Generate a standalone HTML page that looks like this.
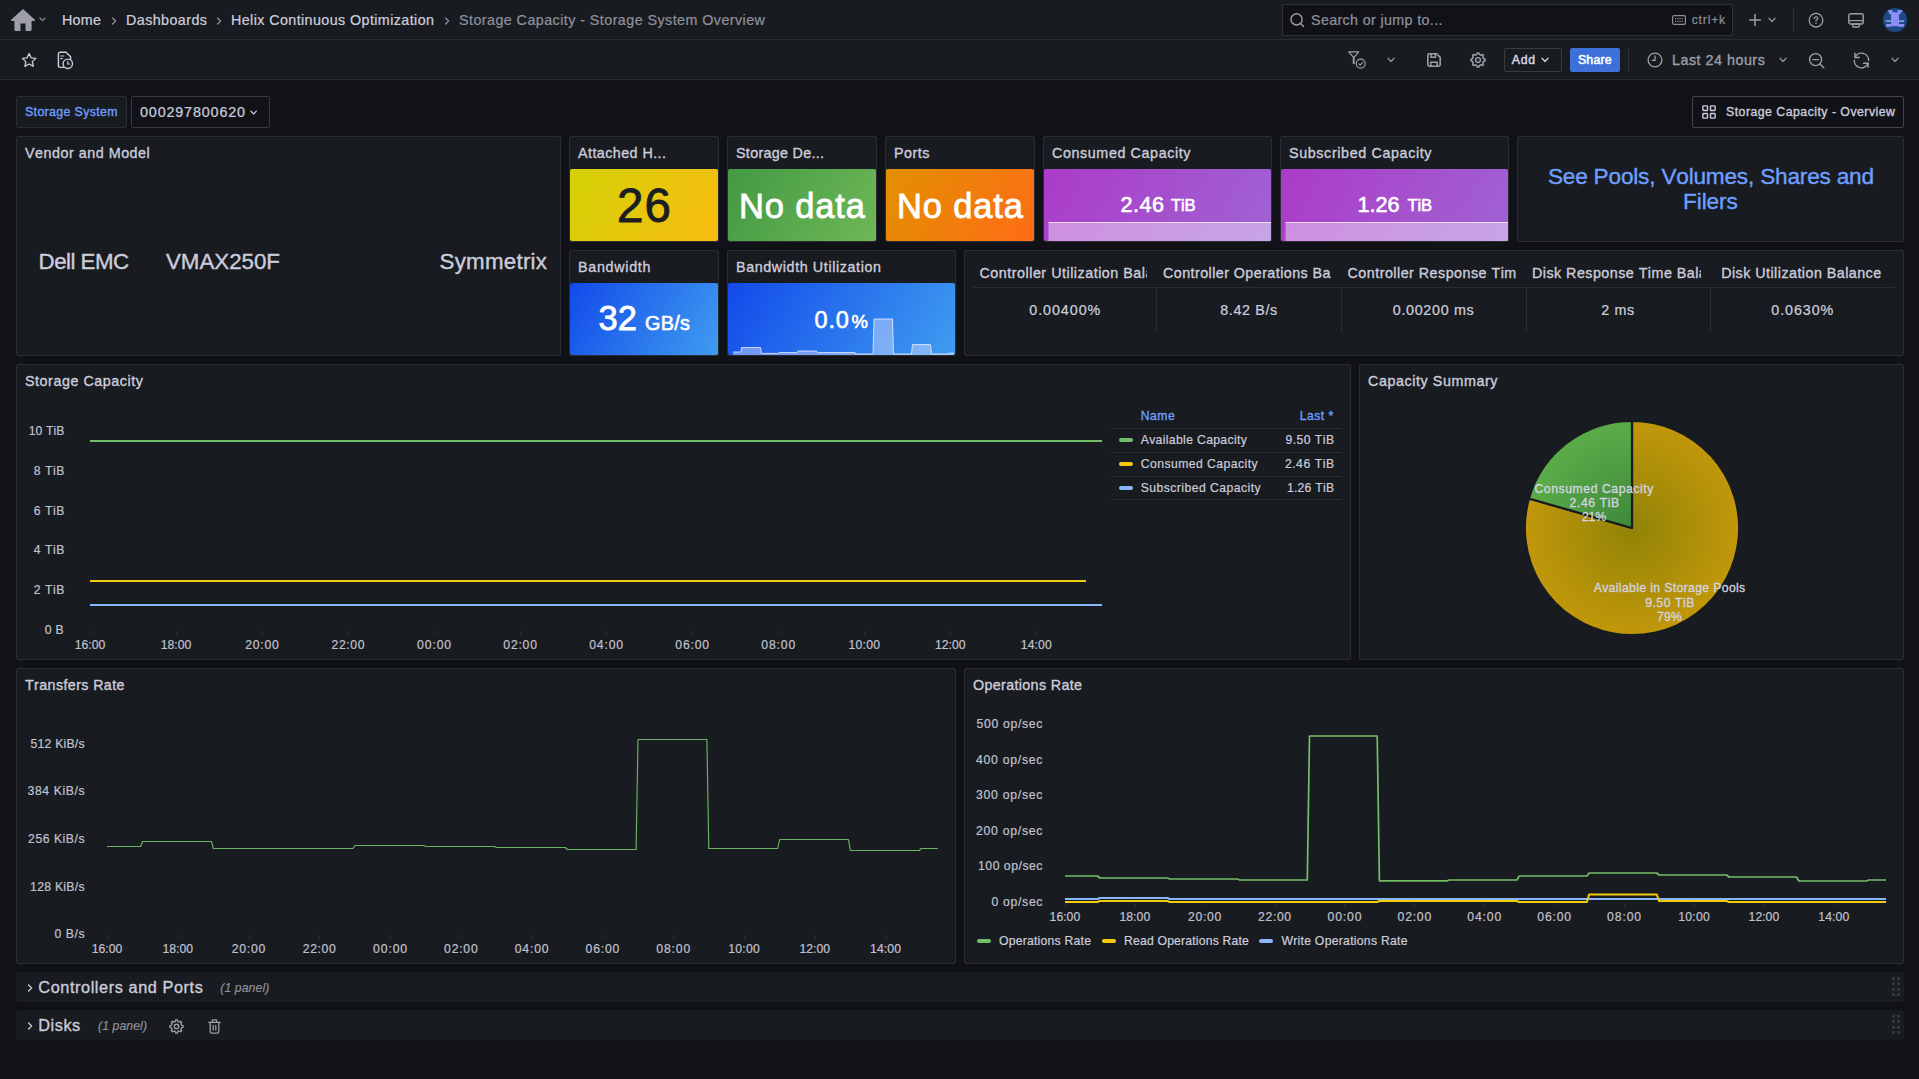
<!DOCTYPE html>
<html><head><meta charset="utf-8"><title>Storage Capacity - Storage System Overview</title>
<style>
html,body{margin:0;padding:0;background:#111217;overflow:hidden;}
body{width:1919px;height:1079px;position:relative;font-family:"Liberation Sans",sans-serif;}
.t{position:absolute;white-space:nowrap;line-height:1;font-kerning:none;}
.b{position:absolute;}
svg{position:absolute;overflow:visible;}
</style></head><body>
<div class="b" style="left:0px;top:0px;width:1919px;height:40px;background:#181b1f;border-bottom:1px solid #2b2d33;box-sizing:border-box;"></div>
<div class="b" style="left:0px;top:40px;width:1919px;height:40px;background:#181b1f;border-bottom:1px solid #2b2d33;box-sizing:border-box;"></div>
<svg style="left:11px;top:8px" width="24" height="24" viewBox="0 0 24 24"><path fill="#9d9ea9" d="M12 0.9 L0.1 11.7 Q-0.4 12.9 0.8 13.1 H3.4 V21.8 Q3.4 22.9 4.5 22.9 H9.5 V15.4 H14.5 V22.9 H19.5 Q20.6 22.9 20.6 21.8 V13.1 H23.2 Q24.4 12.9 23.9 11.7 Z"/></svg>
<svg style="left:38.6px;top:17.4px" width="7" height="5.2" viewBox="0 0 8 6"><path d="M1 1.2 L4 4.2 L7 1.2" fill="none" stroke="#8e8f9b" stroke-width="1.4" stroke-linecap="round" stroke-linejoin="round"/></svg>
<span class="t" style="left:62.00px;top:13.10px;font-size:14.3px;color:#ccccdc;letter-spacing:0.285px;-webkit-text-stroke:0.24px #ccccdc;">Home</span>
<svg style="left:111px;top:16.5px" width="6" height="8" viewBox="0 0 6 8"><path d="M1.6 1 L4.6 4 L1.6 7" fill="none" stroke="#8e8f9b" stroke-width="1.3" stroke-linecap="round" stroke-linejoin="round"/></svg>
<span class="t" style="left:126.00px;top:13.10px;font-size:14.3px;color:#ccccdc;letter-spacing:0.432px;-webkit-text-stroke:0.24px #ccccdc;">Dashboards</span>
<svg style="left:216px;top:16.5px" width="6" height="8" viewBox="0 0 6 8"><path d="M1.6 1 L4.6 4 L1.6 7" fill="none" stroke="#8e8f9b" stroke-width="1.3" stroke-linecap="round" stroke-linejoin="round"/></svg>
<span class="t" style="left:231.00px;top:13.10px;font-size:14.3px;color:#ccccdc;letter-spacing:0.409px;-webkit-text-stroke:0.24px #ccccdc;">Helix Continuous Optimization</span>
<svg style="left:444px;top:16.5px" width="6" height="8" viewBox="0 0 6 8"><path d="M1.6 1 L4.6 4 L1.6 7" fill="none" stroke="#8e8f9b" stroke-width="1.3" stroke-linecap="round" stroke-linejoin="round"/></svg>
<span class="t" style="left:459.00px;top:13.10px;font-size:14.3px;color:#8e8f9b;letter-spacing:0.446px;-webkit-text-stroke:0.24px #8e8f9b;">Storage Capacity - Storage System Overview</span>
<div class="b" style="left:1282px;top:4px;width:451px;height:32px;background:#111217;border:1px solid #2f3137;border-radius:2px;box-sizing:border-box;"></div>
<svg style="left:1289px;top:12px" width="16" height="16" viewBox="0 0 16 16"><circle cx="7.6" cy="7.4" r="5.6" fill="none" stroke="#9d9ea9" stroke-width="1.4"/><path d="M11.8 11.8 L14.6 14.6" stroke="#9d9ea9" stroke-width="1.4" stroke-linecap="round"/></svg>
<span class="t" style="left:1311.00px;top:12.90px;font-size:14.3px;color:#8e8f9b;letter-spacing:0.353px;-webkit-text-stroke:0.24px #8e8f9b;">Search or jump to...</span>
<svg style="left:1672px;top:15px" width="14" height="10" viewBox="0 0 14 10"><rect x="0.6" y="0.6" width="12.8" height="8.8" rx="1.6" fill="none" stroke="#8e8f9b" stroke-width="1.2"/><path d="M3 3.6h8M3 6.4h8" stroke="#8e8f9b" stroke-width="1.1" stroke-dasharray="1.2 1"/></svg>
<span class="t" style="left:1691.70px;top:13.87px;font-size:12.2px;color:#8e8f9b;letter-spacing:0.802px;-webkit-text-stroke:0.21px #8e8f9b;">ctrl+k</span>
<svg style="left:1749px;top:14px" width="12" height="12" viewBox="0 0 12 12"><path d="M6 0.6V11.4M0.6 6H11.4" stroke="#9d9ea9" stroke-width="1.5" stroke-linecap="round"/></svg>
<svg style="left:1767.7px;top:17.2px" width="8.0" height="6.0" viewBox="0 0 8 6"><path d="M1 1.2 L4 4.4 L7 1.2" fill="none" stroke="#8e8f9b" stroke-width="1.4" stroke-linecap="round" stroke-linejoin="round"/></svg>
<div class="b" style="left:1793px;top:8px;width:1px;height:24px;background:#2f3137;"></div>
<svg style="left:1808px;top:12px" width="16" height="16" viewBox="0 0 16 16"><circle cx="8" cy="8.2" r="6.8" fill="none" stroke="#9d9ea9" stroke-width="1.3"/><path d="M6.2 6.6 Q6.2 4.8 8 4.8 Q9.8 4.8 9.8 6.4 Q9.8 7.4 8 8.2 V9.2" fill="none" stroke="#9d9ea9" stroke-width="1.2" stroke-linecap="round"/><circle cx="8" cy="11.3" r="0.8" fill="#9d9ea9"/></svg>
<svg style="left:1848px;top:12.5px" width="16" height="15" viewBox="0 0 16 15"><rect x="0.8" y="0.8" width="14.4" height="10.2" rx="1.8" fill="none" stroke="#9d9ea9" stroke-width="1.4"/><path d="M1 7.6H15" stroke="#9d9ea9" stroke-width="1.2"/><rect x="4.6" y="11" width="6.8" height="3" rx="1" fill="none" stroke="#9d9ea9" stroke-width="1.3"/></svg>
<svg style="left:1883px;top:8px" width="24" height="24" viewBox="0 0 24 24"><circle cx="12" cy="12" r="12" fill="#1d4a82"/><path fill="#8b8ff5" d="M5.3 1.9h4.2v2.4h5.1V1.9h4.7v2.4h-1.6v2h-1.7v5.9h5.2V14h-5.2v1.9h5.2v2.8h-5.6v-0.4H8.1v0.4H3v-2.8h5.1V14H2.5v-1.8h5.6V6.3H6.2v-2H5.3z"/></svg>
<svg style="left:21px;top:52.3px" width="16.2" height="16.2" viewBox="0 0 17 17"><path d="M8.5 1.5 L10.6 6.1 L15.6 6.7 L11.9 10.1 L12.9 15.1 L8.5 12.6 L4.1 15.1 L5.1 10.1 L1.4 6.7 L6.4 6.1 Z" fill="none" stroke="#ccccdc" stroke-width="1.4" stroke-linejoin="round"/></svg>
<svg style="left:56.5px;top:51px" width="18" height="19" viewBox="0 0 18 19"><path d="M6.4 16.4H3.2 Q1.4 16.4 1.4 14.6 V3 Q1.4 1.2 3.2 1.2 H9 L13.6 5.8 V8.6" fill="none" stroke="#ccccdc" stroke-width="1.4" stroke-linejoin="round" stroke-linecap="round"/><path d="M3.8 5h3M3.8 7.6h1.6" stroke="#ccccdc" stroke-width="1.2" stroke-linecap="round"/><circle cx="10.8" cy="12.8" r="4.7" fill="#181b1f" stroke="#ccccdc" stroke-width="1.4"/><path d="M10.8 10.6V13H12.6" fill="none" stroke="#ccccdc" stroke-width="1.2" stroke-linecap="round"/></svg>
<svg style="left:1348px;top:51px" width="19" height="18" viewBox="0 0 19 18"><path d="M0.7 0.9 H10.7 L5.7 6.6 Z" fill="none" stroke="#9d9ea9" stroke-width="1.3" stroke-linejoin="round"/><path d="M5.7 6.4V13" stroke="#9d9ea9" stroke-width="1.9"/><circle cx="12.7" cy="12.6" r="4.5" fill="#181b1f" stroke="#9d9ea9" stroke-width="1.2"/><path d="M10.8 12.8 L12.2 14.2 L14.8 11.4" fill="none" stroke="#9d9ea9" stroke-width="1.1" stroke-linecap="round" stroke-linejoin="round"/></svg>
<svg style="left:1387.0px;top:57.0px" width="8.0" height="6.0" viewBox="0 0 8 6"><path d="M1 1.2 L4 4.4 L7 1.2" fill="none" stroke="#8e8f9b" stroke-width="1.4" stroke-linecap="round" stroke-linejoin="round"/></svg>
<svg style="left:1427px;top:53px" width="14" height="14" viewBox="0 0 14 14"><path d="M2.4 0.8 H9.6 L13.2 4.4 V11.6 Q13.2 13.2 11.6 13.2 H2.4 Q0.8 13.2 0.8 11.6 V2.4 Q0.8 0.8 2.4 0.8 Z" fill="none" stroke="#9d9ea9" stroke-width="1.6" stroke-linejoin="round"/><path d="M4 1V4.2H8.4V1" fill="none" stroke="#9d9ea9" stroke-width="1.5"/><path d="M3.8 13V9.2H10.2V13" fill="none" stroke="#9d9ea9" stroke-width="1.5"/></svg>
<svg style="left:1469.7px;top:52px" width="16" height="16" viewBox="0 0 16 16"><path d="M6.87 2.41 L7.08 0.96 L8.92 0.96 L9.13 2.41 L11.15 3.25 L12.33 2.37 L13.63 3.67 L12.75 4.85 L13.59 6.87 L15.04 7.08 L15.04 8.92 L13.59 9.13 L12.75 11.15 L13.63 12.33 L12.33 13.63 L11.15 12.75 L9.13 13.59 L8.92 15.04 L7.08 15.04 L6.87 13.59 L4.85 12.75 L3.67 13.63 L2.37 12.33 L3.25 11.15 L2.41 9.13 L0.96 8.92 L0.96 7.08 L2.41 6.87 L3.25 4.85 L2.37 3.67 L3.67 2.37 L4.85 3.25Z" fill="none" stroke="#9d9ea9" stroke-width="1.45" stroke-linejoin="round"/><circle cx="8" cy="8" r="2.4" fill="none" stroke="#9d9ea9" stroke-width="1.45"/></svg>
<div class="b" style="left:1504px;top:48px;width:58px;height:24px;border:1px solid #3a3c43;border-radius:2px;box-sizing:border-box;"></div>
<span class="t" style="left:1511.80px;top:53.89px;font-size:12.3px;color:#d5d5e3;letter-spacing:0.657px;-webkit-text-stroke:0.45px #d5d5e3;">Add</span>
<svg style="left:1541.0px;top:57.3px" width="8.0" height="6.0" viewBox="0 0 8 6"><path d="M1 1.2 L4 4.4 L7 1.2" fill="none" stroke="#ccccdc" stroke-width="1.4" stroke-linecap="round" stroke-linejoin="round"/></svg>
<div class="b" style="left:1570px;top:48px;width:50px;height:24px;background:#3d71d9;border-radius:2px;"></div>
<span class="t" style="left:1578.00px;top:53.89px;font-size:12.3px;color:#ffffff;letter-spacing:0.170px;-webkit-text-stroke:0.5px #fff;">Share</span>
<div class="b" style="left:1628px;top:48px;width:1px;height:24px;background:#2f3137;"></div>
<svg style="left:1647px;top:52px" width="16" height="16" viewBox="0 0 16 16"><circle cx="8" cy="8" r="6.9" fill="none" stroke="#9d9ea9" stroke-width="1.3"/><path d="M8 4V8.4H5.4" fill="none" stroke="#9d9ea9" stroke-width="1.3" stroke-linecap="round" stroke-linejoin="round"/></svg>
<span class="t" style="left:1672.00px;top:53.10px;font-size:14.3px;color:#9d9ea9;letter-spacing:0.512px;-webkit-text-stroke:0.35px #9d9ea9;">Last 24 hours</span>
<svg style="left:1779.0px;top:57.3px" width="8.0" height="6.0" viewBox="0 0 8 6"><path d="M1 1.2 L4 4.4 L7 1.2" fill="none" stroke="#8e8f9b" stroke-width="1.4" stroke-linecap="round" stroke-linejoin="round"/></svg>
<svg style="left:1808px;top:51.5px" width="17" height="17" viewBox="0 0 17 17"><circle cx="7.6" cy="7.6" r="6" fill="none" stroke="#9d9ea9" stroke-width="1.4"/><path d="M12 12 L15.8 15.8" stroke="#9d9ea9" stroke-width="1.4" stroke-linecap="round"/><path d="M4.8 7.6H10.4" stroke="#9d9ea9" stroke-width="1.4" stroke-linecap="round"/></svg>
<svg style="left:1852.5px;top:52px" width="17" height="16" viewBox="0 0 17 16"><path d="M2 5.4A7.1 7.1 0 0 1 15.6 8.4M15 11.3A7.1 7.1 0 0 1 1.3 8.1" fill="none" stroke="#9d9ea9" stroke-width="1.4" stroke-linecap="round"/><path d="M1.9 1.2V5.5H6.2M15.1 14.9V11.2H10.5" fill="none" stroke="#9d9ea9" stroke-width="1.5" stroke-linecap="round" stroke-linejoin="round"/></svg>
<svg style="left:1891.2px;top:57.3px" width="8.0" height="6.0" viewBox="0 0 8 6"><path d="M1 1.2 L4 4.4 L7 1.2" fill="none" stroke="#8e8f9b" stroke-width="1.4" stroke-linecap="round" stroke-linejoin="round"/></svg>
<div class="b" style="left:16px;top:96px;width:111px;height:32px;background:#181b1f;border:1px solid #2b2d33;border-radius:2px;box-sizing:border-box;"></div>
<span class="t" style="left:25.00px;top:105.79px;font-size:12.3px;color:#6e9fff;letter-spacing:0.384px;-webkit-text-stroke:0.35px #6e9fff;">Storage System</span>
<div class="b" style="left:131px;top:96px;width:138.5px;height:32px;background:#111217;border:1px solid #36383f;border-radius:2px;box-sizing:border-box;"></div>
<span class="t" style="left:140.00px;top:104.90px;font-size:14.3px;color:#ccccdc;letter-spacing:0.869px;-webkit-text-stroke:0.24px #ccccdc;">000297800620</span>
<svg style="left:250.4px;top:109.6px" width="7.2" height="5.4" viewBox="0 0 8 6"><path d="M1 1.2 L4 4.4 L7 1.2" fill="none" stroke="#ccccdc" stroke-width="1.4" stroke-linecap="round" stroke-linejoin="round"/></svg>
<div class="b" style="left:1692px;top:96px;width:212px;height:32px;background:#111217;border:1px solid #43454c;border-radius:2px;box-sizing:border-box;"></div>
<svg style="left:1702px;top:105px" width="14" height="14" viewBox="0 0 14 14"><g fill="none" stroke="#ccccdc" stroke-width="1.4"><rect x="0.9" y="0.9" width="4.6" height="4.6" rx="0.6"/><rect x="8.5" y="0.9" width="4.6" height="4.6" rx="0.6"/><rect x="0.9" y="8.5" width="4.6" height="4.6" rx="0.6"/><rect x="8.5" y="8.5" width="4.6" height="4.6" rx="0.6"/></g></svg>
<span class="t" style="left:1726.00px;top:105.79px;font-size:12.3px;color:#ccccdc;letter-spacing:0.479px;-webkit-text-stroke:0.35px #ccccdc;">Storage Capacity - Overview</span>
<div class="b" style="left:16px;top:136px;width:545px;height:220px;background:#181b1f;border:1px solid #2b2d33;border-radius:2px;box-sizing:border-box;"></div>
<span class="t" style="left:25.00px;top:146.10px;font-size:14.3px;color:#ccccdc;letter-spacing:0.528px;-webkit-text-stroke:0.35px #ccccdc;">Vendor and Model</span>
<span class="t" style="left:38.60px;top:251.22px;font-size:22.3px;color:#ccccdc;letter-spacing:-0.524px;-webkit-text-stroke:0.38px #ccccdc;">Dell EMC</span>
<span class="t" style="left:166.00px;top:251.22px;font-size:22.3px;color:#ccccdc;letter-spacing:-0.003px;-webkit-text-stroke:0.38px #ccccdc;">VMAX250F</span>
<span class="t" style="left:439.50px;top:251.22px;font-size:22.3px;color:#ccccdc;letter-spacing:0.274px;-webkit-text-stroke:0.38px #ccccdc;">Symmetrix</span>
<div class="b" style="left:569px;top:136px;width:150px;height:106px;background:#181b1f;border:1px solid #2b2d33;border-radius:2px;box-sizing:border-box;"></div>
<span class="t" style="left:578.00px;top:146.10px;font-size:14.3px;color:#ccccdc;letter-spacing:0.444px;-webkit-text-stroke:0.35px #ccccdc;">Attached H...</span>
<div class="b" style="left:570px;top:169px;width:148px;height:72px;background:linear-gradient(120deg,#d3d205,#f9bb11);border-radius:2px;"></div>
<span class="t" style="left:617.00px;top:182.49px;font-size:47.5px;color:#1b1d22;letter-spacing:1.166px;-webkit-text-stroke:0.9px #1b1d22;">26</span>
<div class="b" style="left:727px;top:136px;width:150px;height:106px;background:#181b1f;border:1px solid #2b2d33;border-radius:2px;box-sizing:border-box;"></div>
<span class="t" style="left:736.00px;top:146.10px;font-size:14.3px;color:#ccccdc;letter-spacing:0.312px;-webkit-text-stroke:0.35px #ccccdc;">Storage De...</span>
<div class="b" style="left:728px;top:169px;width:148px;height:72px;background:linear-gradient(120deg,#429a43,#6fb757);border-radius:2px;"></div>
<span class="t" style="left:739.00px;top:188.50px;font-size:34.5px;color:#ffffff;letter-spacing:0.861px;-webkit-text-stroke:0.8px #fff;">No data</span>
<div class="b" style="left:885px;top:136px;width:150px;height:106px;background:#181b1f;border:1px solid #2b2d33;border-radius:2px;box-sizing:border-box;"></div>
<span class="t" style="left:894.00px;top:146.10px;font-size:14.3px;color:#ccccdc;letter-spacing:0.531px;-webkit-text-stroke:0.35px #ccccdc;">Ports</span>
<div class="b" style="left:886px;top:169px;width:148px;height:72px;background:linear-gradient(120deg,#e29000,#ff6c17);border-radius:2px;"></div>
<span class="t" style="left:897.00px;top:188.50px;font-size:34.5px;color:#ffffff;letter-spacing:0.861px;-webkit-text-stroke:0.8px #fff;">No data</span>
<div class="b" style="left:1043px;top:136px;width:229px;height:106px;background:#181b1f;border:1px solid #2b2d33;border-radius:2px;box-sizing:border-box;"></div>
<span class="t" style="left:1052.00px;top:146.10px;font-size:14.3px;color:#ccccdc;letter-spacing:0.608px;-webkit-text-stroke:0.35px #ccccdc;">Consumed Capacity</span>
<div class="b" style="left:1044px;top:169px;width:227px;height:72px;background:linear-gradient(120deg,#ac3bc8,#9f63d3);border-radius:2px;"></div>
<svg style="left:1044px;top:169px" width="227" height="72" viewBox="0 0 227 72"><path d="M4.5 53.5 L227.0 53.5 L227.0 72 L4.5 72 Z" fill="rgba(255,255,255,0.42)"/><path d="M4.5 53.5 L227.0 53.5" fill="none" stroke="rgba(255,255,255,0.75)" stroke-width="1"/></svg>
<span class="t" style="left:1120.50px;top:194.22px;font-size:21.6px;color:#ffffff;letter-spacing:0.487px;-webkit-text-stroke:0.6px #fff;">2.46</span>
<span class="t" style="left:1171.00px;top:198.45px;font-size:16.6px;color:#ffffff;letter-spacing:-0.142px;-webkit-text-stroke:0.6px #fff;">TiB</span>
<div class="b" style="left:1280px;top:136px;width:229px;height:106px;background:#181b1f;border:1px solid #2b2d33;border-radius:2px;box-sizing:border-box;"></div>
<span class="t" style="left:1289.00px;top:146.10px;font-size:14.3px;color:#ccccdc;letter-spacing:0.630px;-webkit-text-stroke:0.35px #ccccdc;">Subscribed Capacity</span>
<div class="b" style="left:1281px;top:169px;width:227px;height:72px;background:linear-gradient(120deg,#ac3bc8,#9f63d3);border-radius:2px;"></div>
<svg style="left:1281px;top:169px" width="227" height="72" viewBox="0 0 227 72"><path d="M4.5 53.5 L227.0 53.5 L227.0 72 L4.5 72 Z" fill="rgba(255,255,255,0.42)"/><path d="M4.5 53.5 L227.0 53.5" fill="none" stroke="rgba(255,255,255,0.75)" stroke-width="1"/></svg>
<span class="t" style="left:1357.50px;top:194.22px;font-size:21.6px;color:#ffffff;letter-spacing:-0.013px;-webkit-text-stroke:0.6px #fff;">1.26</span>
<span class="t" style="left:1407.50px;top:198.45px;font-size:16.6px;color:#ffffff;letter-spacing:-0.142px;-webkit-text-stroke:0.6px #fff;">TiB</span>
<div class="b" style="left:1517px;top:136px;width:387px;height:106px;background:#181b1f;border:1px solid #2b2d33;border-radius:2px;box-sizing:border-box;"></div>
<span class="t" style="left:1547.90px;top:166.17px;font-size:22.6px;color:#6e9fff;letter-spacing:-0.187px;-webkit-text-stroke:0.38px #6e9fff;">See Pools, Volumes, Shares and</span>
<span class="t" style="left:1683.10px;top:191.17px;font-size:22.6px;color:#6e9fff;letter-spacing:-0.128px;-webkit-text-stroke:0.38px #6e9fff;">Filers</span>
<div class="b" style="left:569px;top:250px;width:150px;height:106px;background:#181b1f;border:1px solid #2b2d33;border-radius:2px;box-sizing:border-box;"></div>
<span class="t" style="left:578.00px;top:260.10px;font-size:14.3px;color:#ccccdc;letter-spacing:0.715px;-webkit-text-stroke:0.35px #ccccdc;">Bandwidth</span>
<div class="b" style="left:570px;top:283px;width:148px;height:72px;background:linear-gradient(120deg,#124aea,#3f9df0);border-radius:2px;"></div>
<span class="t" style="left:598.50px;top:301.30px;font-size:34.5px;color:#ffffff;letter-spacing:0.125px;-webkit-text-stroke:0.8px #fff;">32</span>
<span class="t" style="left:645.00px;top:313.74px;font-size:19.8px;color:#ffffff;letter-spacing:0.330px;-webkit-text-stroke:0.6px #fff;">GB/s</span>
<div class="b" style="left:727px;top:250px;width:229px;height:106px;background:#181b1f;border:1px solid #2b2d33;border-radius:2px;box-sizing:border-box;"></div>
<span class="t" style="left:736.00px;top:260.10px;font-size:14.3px;color:#ccccdc;letter-spacing:0.613px;-webkit-text-stroke:0.35px #ccccdc;">Bandwidth Utilization</span>
<div class="b" style="left:728px;top:283px;width:227px;height:72px;background:linear-gradient(120deg,#124aea,#3f9df0);border-radius:2px;"></div>
<svg style="left:728px;top:283px" width="227" height="72" viewBox="0 0 227 72"><path d="M5.0 69.0 L13.0 69.0 L13.5 64.5 L32.5 64.5 L33.5 70.4 L50.5 70.4 L51.0 69.6 L69.0 69.6 L70.0 68.0 L88.5 68.0 L89.5 69.6 L127.0 69.6 L127.5 71.0 L145.0 71.0 L146.0 36.0 L164.5 36.0 L165.5 71.0 L183.5 71.0 L184.5 61.6 L202.5 61.6 L203.5 71.0 L220.0 71.0 L221.0 70.2 L226.0 70.2 L226.0 72 L5.0 72 Z" fill="rgba(220,225,255,0.45)"/><path d="M5.0 69.0 L13.0 69.0 L13.5 64.5 L32.5 64.5 L33.5 70.4 L50.5 70.4 L51.0 69.6 L69.0 69.6 L70.0 68.0 L88.5 68.0 L89.5 69.6 L127.0 69.6 L127.5 71.0 L145.0 71.0 L146.0 36.0 L164.5 36.0 L165.5 71.0 L183.5 71.0 L184.5 61.6 L202.5 61.6 L203.5 71.0 L220.0 71.0 L221.0 70.2 L226.0 70.2" fill="none" stroke="rgba(235,240,255,0.8)" stroke-width="1"/></svg>
<span class="t" style="left:814.60px;top:308.71px;font-size:23.5px;color:#ffffff;letter-spacing:0.765px;-webkit-text-stroke:0.6px #fff;">0.0</span>
<span class="t" style="left:851.40px;top:313.02px;font-size:18.4px;color:#ffffff;-webkit-text-stroke:0.6px #fff;">%</span>
<div class="b" style="left:964px;top:250px;width:940px;height:106px;background:#181b1f;border:1px solid #2b2d33;border-radius:2px;box-sizing:border-box;"></div>
<div class="b" style="left:979.5px;top:262px;width:167.5px;height:22px;overflow:hidden;"><span class="t" style="left:0;top:4.10px;font-size:14.3px;color:#ccccdc;-webkit-text-stroke:0.35px #ccccdc;letter-spacing:0.517px">Controller Utilization Bala</span></div>
<span class="t" style="left:1029.25px;top:303.10px;font-size:14.3px;color:#ccccdc;letter-spacing:0.942px;-webkit-text-stroke:0.24px #ccccdc;">0.00400%</span>
<div class="b" style="left:1163.0px;top:262px;width:168.5px;height:22px;overflow:hidden;"><span class="t" style="left:0;top:4.10px;font-size:14.3px;color:#ccccdc;-webkit-text-stroke:0.35px #ccccdc;letter-spacing:0.440px">Controller Operations Ba</span></div>
<span class="t" style="left:1220.25px;top:303.10px;font-size:14.3px;color:#ccccdc;letter-spacing:0.648px;-webkit-text-stroke:0.24px #ccccdc;">8.42 B/s</span>
<div class="b" style="left:1156px;top:288px;width:1px;height:44px;background:#2b2d33;"></div>
<div class="b" style="left:1347.5px;top:262px;width:168.5px;height:22px;overflow:hidden;"><span class="t" style="left:0;top:4.10px;font-size:14.3px;color:#ccccdc;-webkit-text-stroke:0.35px #ccccdc;letter-spacing:0.483px">Controller Response Tim</span></div>
<span class="t" style="left:1392.75px;top:303.10px;font-size:14.3px;color:#ccccdc;letter-spacing:0.697px;-webkit-text-stroke:0.24px #ccccdc;">0.00200 ms</span>
<div class="b" style="left:1341px;top:288px;width:1px;height:44px;background:#2b2d33;"></div>
<div class="b" style="left:1532.0px;top:262px;width:168.5px;height:22px;overflow:hidden;"><span class="t" style="left:0;top:4.10px;font-size:14.3px;color:#ccccdc;-webkit-text-stroke:0.35px #ccccdc;letter-spacing:0.467px">Disk Response Time Bala</span></div>
<span class="t" style="left:1601.25px;top:303.10px;font-size:14.3px;color:#ccccdc;letter-spacing:0.670px;-webkit-text-stroke:0.24px #ccccdc;">2 ms</span>
<div class="b" style="left:1526px;top:288px;width:1px;height:44px;background:#2b2d33;"></div>
<div class="b" style="left:1721.2px;top:262px;width:163.79999999999995px;height:22px;overflow:hidden;"><span class="t" style="left:0;top:4.10px;font-size:14.3px;color:#ccccdc;-webkit-text-stroke:0.35px #ccccdc;letter-spacing:0.460px">Disk Utilization Balance</span></div>
<span class="t" style="left:1771.25px;top:303.10px;font-size:14.3px;color:#ccccdc;letter-spacing:0.924px;-webkit-text-stroke:0.24px #ccccdc;">0.0630%</span>
<div class="b" style="left:1710px;top:288px;width:1px;height:44px;background:#2b2d33;"></div>
<div class="b" style="left:973px;top:287px;width:921.5px;height:1px;background:#2b2d33;"></div>
<div class="b" style="left:16px;top:364px;width:1335px;height:296px;background:#181b1f;border:1px solid #2b2d33;border-radius:2px;box-sizing:border-box;"></div>
<span class="t" style="left:25.00px;top:374.10px;font-size:14.3px;color:#ccccdc;letter-spacing:0.554px;-webkit-text-stroke:0.35px #ccccdc;">Storage Capacity</span>
<span class="t" style="left:28.70px;top:424.72px;font-size:12.2px;color:#c0c1d0;letter-spacing:0.083px;-webkit-text-stroke:0.21px #c0c1d0;">10 TiB</span>
<span class="t" style="left:33.70px;top:464.72px;font-size:12.2px;color:#c0c1d0;letter-spacing:0.550px;-webkit-text-stroke:0.21px #c0c1d0;">8 TiB</span>
<span class="t" style="left:33.70px;top:504.62px;font-size:12.2px;color:#c0c1d0;letter-spacing:0.550px;-webkit-text-stroke:0.21px #c0c1d0;">6 TiB</span>
<span class="t" style="left:33.70px;top:543.72px;font-size:12.2px;color:#c0c1d0;letter-spacing:0.550px;-webkit-text-stroke:0.21px #c0c1d0;">4 TiB</span>
<span class="t" style="left:33.70px;top:583.82px;font-size:12.2px;color:#c0c1d0;letter-spacing:0.550px;-webkit-text-stroke:0.21px #c0c1d0;">2 TiB</span>
<span class="t" style="left:44.70px;top:624.02px;font-size:12.2px;color:#c0c1d0;letter-spacing:0.345px;-webkit-text-stroke:0.21px #c0c1d0;">0 B</span>
<span class="t" style="left:74.70px;top:638.72px;font-size:12.2px;color:#c0c1d0;letter-spacing:0.018px;-webkit-text-stroke:0.21px #c0c1d0;">16:00</span>
<div class="b" style="left:90px;top:631px;width:1px;height:4px;background:#2b2d33;"></div>
<span class="t" style="left:160.63px;top:638.72px;font-size:12.2px;color:#c0c1d0;letter-spacing:0.068px;-webkit-text-stroke:0.21px #c0c1d0;">18:00</span>
<div class="b" style="left:176px;top:631px;width:1px;height:4px;background:#2b2d33;"></div>
<span class="t" style="left:245.36px;top:638.72px;font-size:12.2px;color:#c0c1d0;letter-spacing:0.718px;-webkit-text-stroke:0.21px #c0c1d0;">20:00</span>
<div class="b" style="left:262px;top:631px;width:1px;height:4px;background:#2b2d33;"></div>
<span class="t" style="left:331.59px;top:638.72px;font-size:12.2px;color:#c0c1d0;letter-spacing:0.618px;-webkit-text-stroke:0.21px #c0c1d0;">22:00</span>
<div class="b" style="left:348px;top:631px;width:1px;height:4px;background:#2b2d33;"></div>
<span class="t" style="left:417.12px;top:638.72px;font-size:12.2px;color:#c0c1d0;letter-spacing:0.868px;-webkit-text-stroke:0.21px #c0c1d0;">00:00</span>
<div class="b" style="left:434px;top:631px;width:1px;height:4px;background:#2b2d33;"></div>
<span class="t" style="left:503.35px;top:638.72px;font-size:12.2px;color:#c0c1d0;letter-spacing:0.768px;-webkit-text-stroke:0.21px #c0c1d0;">02:00</span>
<div class="b" style="left:520px;top:631px;width:1px;height:4px;background:#2b2d33;"></div>
<span class="t" style="left:589.18px;top:638.72px;font-size:12.2px;color:#c0c1d0;letter-spacing:0.868px;-webkit-text-stroke:0.21px #c0c1d0;">04:00</span>
<div class="b" style="left:606px;top:631px;width:1px;height:4px;background:#2b2d33;"></div>
<span class="t" style="left:675.31px;top:638.72px;font-size:12.2px;color:#c0c1d0;letter-spacing:0.818px;-webkit-text-stroke:0.21px #c0c1d0;">06:00</span>
<div class="b" style="left:692px;top:631px;width:1px;height:4px;background:#2b2d33;"></div>
<span class="t" style="left:761.24px;top:638.72px;font-size:12.2px;color:#c0c1d0;letter-spacing:0.868px;-webkit-text-stroke:0.21px #c0c1d0;">08:00</span>
<div class="b" style="left:778px;top:631px;width:1px;height:4px;background:#2b2d33;"></div>
<span class="t" style="left:848.57px;top:638.72px;font-size:12.2px;color:#c0c1d0;letter-spacing:0.218px;-webkit-text-stroke:0.21px #c0c1d0;">10:00</span>
<div class="b" style="left:864px;top:631px;width:1px;height:4px;background:#2b2d33;"></div>
<span class="t" style="left:935.00px;top:638.72px;font-size:12.2px;color:#c0c1d0;letter-spacing:0.018px;-webkit-text-stroke:0.21px #c0c1d0;">12:00</span>
<div class="b" style="left:950px;top:631px;width:1px;height:4px;background:#2b2d33;"></div>
<span class="t" style="left:1020.83px;top:638.72px;font-size:12.2px;color:#c0c1d0;letter-spacing:0.118px;-webkit-text-stroke:0.21px #c0c1d0;">14:00</span>
<div class="b" style="left:1036px;top:631px;width:1px;height:4px;background:#2b2d33;"></div>
<svg style="left:0;top:0" width="1919" height="1079"><path d="M90 441H1102" stroke="#73bf69" stroke-width="2"/><path d="M90 581H1086" stroke="#f2cc0c" stroke-width="2"/><path d="M90 605H1102" stroke="#8ab8ff" stroke-width="2"/></svg>
<span class="t" style="left:1140.70px;top:409.67px;font-size:12.2px;color:#6e9fff;letter-spacing:0.486px;-webkit-text-stroke:0.35px #6e9fff;">Name</span>
<span class="t" style="left:1299.70px;top:409.67px;font-size:12.2px;color:#6e9fff;letter-spacing:0.461px;-webkit-text-stroke:0.35px #6e9fff;">Last *</span>
<div class="b" style="left:1111px;top:428px;width:231px;height:1px;background:#2b2d33;"></div>
<div class="b" style="left:1111px;top:452px;width:231px;height:1px;background:#2b2d33;"></div>
<div class="b" style="left:1111px;top:476px;width:231px;height:1px;background:#2b2d33;"></div>
<div class="b" style="left:1111px;top:499px;width:231px;height:1px;background:#2b2d33;"></div>
<div class="b" style="left:1119px;top:438px;width:14px;height:4px;background:#73bf69;border-radius:2px;"></div>
<span class="t" style="left:1140.70px;top:433.97px;font-size:12.2px;color:#ccccdc;letter-spacing:0.345px;-webkit-text-stroke:0.21px #ccccdc;">Available Capacity</span>
<span class="t" style="left:1285.40px;top:433.97px;font-size:12.2px;color:#ccccdc;letter-spacing:0.463px;-webkit-text-stroke:0.21px #ccccdc;">9.50 TiB</span>
<div class="b" style="left:1119px;top:462px;width:14px;height:4px;background:#f2cc0c;border-radius:2px;"></div>
<span class="t" style="left:1140.70px;top:457.97px;font-size:12.2px;color:#ccccdc;letter-spacing:0.447px;-webkit-text-stroke:0.21px #ccccdc;">Consumed Capacity</span>
<span class="t" style="left:1284.90px;top:457.97px;font-size:12.2px;color:#ccccdc;letter-spacing:0.535px;-webkit-text-stroke:0.21px #ccccdc;">2.46 TiB</span>
<div class="b" style="left:1119px;top:486px;width:14px;height:4px;background:#8ab8ff;border-radius:2px;"></div>
<span class="t" style="left:1140.70px;top:481.97px;font-size:12.2px;color:#ccccdc;letter-spacing:0.451px;-webkit-text-stroke:0.21px #ccccdc;">Subscribed Capacity</span>
<span class="t" style="left:1286.90px;top:481.97px;font-size:12.2px;color:#ccccdc;letter-spacing:0.249px;-webkit-text-stroke:0.21px #ccccdc;">1.26 TiB</span>
<div class="b" style="left:1359px;top:364px;width:545px;height:296px;background:#181b1f;border:1px solid #2b2d33;border-radius:2px;box-sizing:border-box;"></div>
<span class="t" style="left:1368.00px;top:374.10px;font-size:14.3px;color:#ccccdc;letter-spacing:0.581px;-webkit-text-stroke:0.35px #ccccdc;">Capacity Summary</span>
<svg style="left:0;top:0" width="1919" height="1079"><defs>
<radialGradient id="gy" gradientUnits="userSpaceOnUse" cx="1632" cy="528" r="107.2"><stop offset="0" stop-color="#918307"/><stop offset="1" stop-color="#c1970a"/></radialGradient>
<radialGradient id="gg" gradientUnits="userSpaceOnUse" cx="1632" cy="528" r="107.2"><stop offset="0" stop-color="#3e883a"/><stop offset="1" stop-color="#5bac49"/></radialGradient></defs>
<path d="M1632 528 L1632 420.8 A107.2 107.2 0 1 1 1528.93 498.54 Z" fill="url(#gy)" stroke="#181b1f" stroke-width="2.2" stroke-linejoin="round"/>
<path d="M1632 528 L1528.93 498.54 A107.2 107.2 0 0 1 1632 420.8 Z" fill="url(#gg)" stroke="#181b1f" stroke-width="2.2" stroke-linejoin="round"/>
</svg>
<span class="t" style="left:1534.50px;top:483.17px;font-size:12.2px;color:#d5d5e2;letter-spacing:0.572px;-webkit-text-stroke:0.3px #d5d5e2;">Consumed Capacity</span>
<span class="t" style="left:1569.50px;top:496.87px;font-size:12.2px;color:#d5d5e2;letter-spacing:0.606px;-webkit-text-stroke:0.3px #d5d5e2;">2.46 TiB</span>
<span class="t" style="left:1582.00px;top:510.57px;font-size:12.2px;color:#d5d5e2;letter-spacing:-0.209px;-webkit-text-stroke:0.3px #d5d5e2;">21%</span>
<span class="t" style="left:1593.65px;top:581.77px;font-size:12.2px;color:#d5d5e2;letter-spacing:0.372px;-webkit-text-stroke:0.3px #d5d5e2;">Available in Storage Pools</span>
<span class="t" style="left:1645.15px;top:596.57px;font-size:12.2px;color:#d5d5e2;letter-spacing:0.535px;-webkit-text-stroke:0.3px #d5d5e2;">9.50 TiB</span>
<span class="t" style="left:1656.90px;top:610.97px;font-size:12.2px;color:#d5d5e2;letter-spacing:0.291px;-webkit-text-stroke:0.3px #d5d5e2;">79%</span>
<div class="b" style="left:16px;top:668px;width:940px;height:296px;background:#181b1f;border:1px solid #2b2d33;border-radius:2px;box-sizing:border-box;"></div>
<span class="t" style="left:25.00px;top:678.10px;font-size:14.3px;color:#ccccdc;letter-spacing:0.381px;-webkit-text-stroke:0.35px #ccccdc;">Transfers Rate</span>
<span class="t" style="left:30.60px;top:737.62px;font-size:12.2px;color:#c0c1d0;letter-spacing:0.223px;-webkit-text-stroke:0.21px #c0c1d0;">512 KiB/s</span>
<span class="t" style="left:27.60px;top:785.42px;font-size:12.2px;color:#c0c1d0;letter-spacing:0.598px;-webkit-text-stroke:0.21px #c0c1d0;">384 KiB/s</span>
<span class="t" style="left:28.10px;top:832.72px;font-size:12.2px;color:#c0c1d0;letter-spacing:0.535px;-webkit-text-stroke:0.21px #c0c1d0;">256 KiB/s</span>
<span class="t" style="left:30.10px;top:880.52px;font-size:12.2px;color:#c0c1d0;letter-spacing:0.285px;-webkit-text-stroke:0.21px #c0c1d0;">128 KiB/s</span>
<span class="t" style="left:54.60px;top:927.62px;font-size:12.2px;color:#c0c1d0;letter-spacing:0.550px;-webkit-text-stroke:0.21px #c0c1d0;">0 B/s</span>
<span class="t" style="left:91.70px;top:942.62px;font-size:12.2px;color:#c0c1d0;letter-spacing:0.018px;-webkit-text-stroke:0.21px #c0c1d0;">16:00</span>
<div class="b" style="left:107px;top:935px;width:1px;height:4px;background:#2b2d33;"></div>
<span class="t" style="left:162.38px;top:942.62px;font-size:12.2px;color:#c0c1d0;letter-spacing:0.068px;-webkit-text-stroke:0.21px #c0c1d0;">18:00</span>
<div class="b" style="left:178px;top:935px;width:1px;height:4px;background:#2b2d33;"></div>
<span class="t" style="left:231.86px;top:942.62px;font-size:12.2px;color:#c0c1d0;letter-spacing:0.718px;-webkit-text-stroke:0.21px #c0c1d0;">20:00</span>
<div class="b" style="left:249px;top:935px;width:1px;height:4px;background:#2b2d33;"></div>
<span class="t" style="left:302.84px;top:942.62px;font-size:12.2px;color:#c0c1d0;letter-spacing:0.618px;-webkit-text-stroke:0.21px #c0c1d0;">22:00</span>
<div class="b" style="left:319px;top:935px;width:1px;height:4px;background:#2b2d33;"></div>
<span class="t" style="left:373.12px;top:942.62px;font-size:12.2px;color:#c0c1d0;letter-spacing:0.868px;-webkit-text-stroke:0.21px #c0c1d0;">00:00</span>
<div class="b" style="left:390px;top:935px;width:1px;height:4px;background:#2b2d33;"></div>
<span class="t" style="left:444.10px;top:942.62px;font-size:12.2px;color:#c0c1d0;letter-spacing:0.768px;-webkit-text-stroke:0.21px #c0c1d0;">02:00</span>
<div class="b" style="left:461px;top:935px;width:1px;height:4px;background:#2b2d33;"></div>
<span class="t" style="left:514.68px;top:942.62px;font-size:12.2px;color:#c0c1d0;letter-spacing:0.868px;-webkit-text-stroke:0.21px #c0c1d0;">04:00</span>
<div class="b" style="left:532px;top:935px;width:1px;height:4px;background:#2b2d33;"></div>
<span class="t" style="left:585.56px;top:942.62px;font-size:12.2px;color:#c0c1d0;letter-spacing:0.818px;-webkit-text-stroke:0.21px #c0c1d0;">06:00</span>
<div class="b" style="left:602px;top:935px;width:1px;height:4px;background:#2b2d33;"></div>
<span class="t" style="left:656.24px;top:942.62px;font-size:12.2px;color:#c0c1d0;letter-spacing:0.868px;-webkit-text-stroke:0.21px #c0c1d0;">08:00</span>
<div class="b" style="left:673px;top:935px;width:1px;height:4px;background:#2b2d33;"></div>
<span class="t" style="left:728.32px;top:942.62px;font-size:12.2px;color:#c0c1d0;letter-spacing:0.218px;-webkit-text-stroke:0.21px #c0c1d0;">10:00</span>
<div class="b" style="left:744px;top:935px;width:1px;height:4px;background:#2b2d33;"></div>
<span class="t" style="left:799.50px;top:942.62px;font-size:12.2px;color:#c0c1d0;letter-spacing:0.018px;-webkit-text-stroke:0.21px #c0c1d0;">12:00</span>
<div class="b" style="left:815px;top:935px;width:1px;height:4px;background:#2b2d33;"></div>
<span class="t" style="left:870.08px;top:942.62px;font-size:12.2px;color:#c0c1d0;letter-spacing:0.118px;-webkit-text-stroke:0.21px #c0c1d0;">14:00</span>
<div class="b" style="left:886px;top:935px;width:1px;height:4px;background:#2b2d33;"></div>
<svg style="left:0;top:0" width="1919" height="1079"><path d="M107.0 846.5 L140.7 846.5 L142.6 841.5 L211.5 841.5 L213.4 848.5 L282.2 848.5 L284.1 848.5 L353.0 848.5 L354.9 845.5 L423.8 845.5 L425.7 846.5 L494.6 846.5 L496.5 847.5 L565.4 847.5 L567.3 849.5 L636.1 849.5 L638.0 739.5 L706.9 739.5 L708.8 848.5 L777.7 848.5 L779.6 839.5 L848.5 839.5 L850.4 850.5 L919.3 850.5 L921.2 848.5 L938.0 848.5" fill="none" stroke="#6bb361" stroke-width="1.15" stroke-linejoin="round"/></svg>
<div class="b" style="left:964px;top:668px;width:940px;height:296px;background:#181b1f;border:1px solid #2b2d33;border-radius:2px;box-sizing:border-box;"></div>
<span class="t" style="left:973.00px;top:678.10px;font-size:14.3px;color:#ccccdc;letter-spacing:0.348px;-webkit-text-stroke:0.35px #ccccdc;">Operations Rate</span>
<span class="t" style="left:976.50px;top:717.82px;font-size:12.2px;color:#c0c1d0;letter-spacing:0.702px;-webkit-text-stroke:0.21px #c0c1d0;">500 op/sec</span>
<span class="t" style="left:976.00px;top:753.72px;font-size:12.2px;color:#c0c1d0;letter-spacing:0.757px;-webkit-text-stroke:0.21px #c0c1d0;">400 op/sec</span>
<span class="t" style="left:976.00px;top:789.02px;font-size:12.2px;color:#c0c1d0;letter-spacing:0.757px;-webkit-text-stroke:0.21px #c0c1d0;">300 op/sec</span>
<span class="t" style="left:976.00px;top:824.72px;font-size:12.2px;color:#c0c1d0;letter-spacing:0.757px;-webkit-text-stroke:0.21px #c0c1d0;">200 op/sec</span>
<span class="t" style="left:978.00px;top:860.02px;font-size:12.2px;color:#c0c1d0;letter-spacing:0.535px;-webkit-text-stroke:0.21px #c0c1d0;">100 op/sec</span>
<span class="t" style="left:991.50px;top:895.62px;font-size:12.2px;color:#c0c1d0;letter-spacing:0.698px;-webkit-text-stroke:0.21px #c0c1d0;">0 op/sec</span>
<span class="t" style="left:1049.60px;top:910.62px;font-size:12.2px;color:#c0c1d0;letter-spacing:0.018px;-webkit-text-stroke:0.21px #c0c1d0;">16:00</span>
<div class="b" style="left:1065px;top:903px;width:1px;height:4px;background:#2b2d33;"></div>
<span class="t" style="left:1119.40px;top:910.62px;font-size:12.2px;color:#c0c1d0;letter-spacing:0.068px;-webkit-text-stroke:0.21px #c0c1d0;">18:00</span>
<div class="b" style="left:1135px;top:903px;width:1px;height:4px;background:#2b2d33;"></div>
<span class="t" style="left:1188.00px;top:910.62px;font-size:12.2px;color:#c0c1d0;letter-spacing:0.718px;-webkit-text-stroke:0.21px #c0c1d0;">20:00</span>
<div class="b" style="left:1205px;top:903px;width:1px;height:4px;background:#2b2d33;"></div>
<span class="t" style="left:1258.10px;top:910.62px;font-size:12.2px;color:#c0c1d0;letter-spacing:0.618px;-webkit-text-stroke:0.21px #c0c1d0;">22:00</span>
<div class="b" style="left:1275px;top:903px;width:1px;height:4px;background:#2b2d33;"></div>
<span class="t" style="left:1327.50px;top:910.62px;font-size:12.2px;color:#c0c1d0;letter-spacing:0.868px;-webkit-text-stroke:0.21px #c0c1d0;">00:00</span>
<div class="b" style="left:1344px;top:903px;width:1px;height:4px;background:#2b2d33;"></div>
<span class="t" style="left:1397.60px;top:910.62px;font-size:12.2px;color:#c0c1d0;letter-spacing:0.768px;-webkit-text-stroke:0.21px #c0c1d0;">02:00</span>
<div class="b" style="left:1414px;top:903px;width:1px;height:4px;background:#2b2d33;"></div>
<span class="t" style="left:1467.30px;top:910.62px;font-size:12.2px;color:#c0c1d0;letter-spacing:0.868px;-webkit-text-stroke:0.21px #c0c1d0;">04:00</span>
<div class="b" style="left:1484px;top:903px;width:1px;height:4px;background:#2b2d33;"></div>
<span class="t" style="left:1537.30px;top:910.62px;font-size:12.2px;color:#c0c1d0;letter-spacing:0.818px;-webkit-text-stroke:0.21px #c0c1d0;">06:00</span>
<div class="b" style="left:1554px;top:903px;width:1px;height:4px;background:#2b2d33;"></div>
<span class="t" style="left:1607.10px;top:910.62px;font-size:12.2px;color:#c0c1d0;letter-spacing:0.868px;-webkit-text-stroke:0.21px #c0c1d0;">08:00</span>
<div class="b" style="left:1624px;top:903px;width:1px;height:4px;background:#2b2d33;"></div>
<span class="t" style="left:1678.30px;top:910.62px;font-size:12.2px;color:#c0c1d0;letter-spacing:0.218px;-webkit-text-stroke:0.21px #c0c1d0;">10:00</span>
<div class="b" style="left:1694px;top:903px;width:1px;height:4px;background:#2b2d33;"></div>
<span class="t" style="left:1748.60px;top:910.62px;font-size:12.2px;color:#c0c1d0;letter-spacing:0.018px;-webkit-text-stroke:0.21px #c0c1d0;">12:00</span>
<div class="b" style="left:1764px;top:903px;width:1px;height:4px;background:#2b2d33;"></div>
<span class="t" style="left:1818.30px;top:910.62px;font-size:12.2px;color:#c0c1d0;letter-spacing:0.118px;-webkit-text-stroke:0.21px #c0c1d0;">14:00</span>
<div class="b" style="left:1834px;top:903px;width:1px;height:4px;background:#2b2d33;"></div>
<svg style="left:0;top:0" width="1919" height="1079"><path d="M1065.0 876.0 L1097.5 876.0 L1099.8 878.0 L1167.5 878.0 L1169.7 879.0 L1237.4 879.0 L1239.6 880.0 L1307.3 880.0 L1309.5 736.0 L1377.2 736.0 L1379.4 880.8 L1447.1 880.8 L1449.3 880.0 L1517.0 880.0 L1519.2 876.0 L1586.9 876.0 L1589.1 873.0 L1656.8 873.0 L1659.0 875.0 L1726.7 875.0 L1728.9 877.0 L1796.6 877.0 L1798.8 881.0 L1866.5 881.0 L1868.7 880.0 L1886.0 880.0" fill="none" stroke="#73bf69" stroke-width="1.7" stroke-linejoin="round"/><path d="M1065.0 899.0 L1097.5 899.0 L1099.8 898.0 L1167.5 898.0 L1169.7 899.0 L1237.4 899.0 L1239.6 899.0 L1307.3 899.0 L1309.5 899.0 L1377.2 899.0 L1379.4 899.0 L1447.1 899.0 L1449.3 899.0 L1517.0 899.0 L1519.2 899.0 L1586.9 899.0 L1589.1 899.0 L1656.8 899.0 L1659.0 899.0 L1726.7 899.0 L1728.9 899.0 L1796.6 899.0 L1798.8 899.0 L1866.5 899.0 L1868.7 899.0 L1886.0 899.0" fill="none" stroke="#8ab8ff" stroke-width="2" stroke-linejoin="round"/><path d="M1065.0 902.0 L1097.5 902.0 L1099.8 901.0 L1167.5 901.0 L1169.7 902.0 L1237.4 902.0 L1239.6 902.0 L1307.3 902.0 L1309.5 902.0 L1377.2 902.0 L1379.4 901.0 L1447.1 901.0 L1449.3 901.0 L1517.0 901.0 L1519.2 902.0 L1586.9 902.0 L1589.1 894.5 L1656.8 894.5 L1659.0 901.0 L1726.7 901.0 L1728.9 902.0 L1796.6 902.0 L1798.8 902.0 L1866.5 902.0 L1868.7 902.0 L1886.0 902.0" fill="none" stroke="#f2cc0c" stroke-width="2" stroke-linejoin="round"/></svg>
<div class="b" style="left:977px;top:939px;width:14px;height:4px;background:#73bf69;border-radius:2px;"></div>
<span class="t" style="left:999.00px;top:934.57px;font-size:12.2px;color:#ccccdc;letter-spacing:0.226px;-webkit-text-stroke:0.21px #ccccdc;">Operations Rate</span>
<div class="b" style="left:1102px;top:939px;width:14px;height:4px;background:#f2cc0c;border-radius:2px;"></div>
<span class="t" style="left:1124.00px;top:934.57px;font-size:12.2px;color:#ccccdc;letter-spacing:0.190px;-webkit-text-stroke:0.21px #ccccdc;">Read Operations Rate</span>
<div class="b" style="left:1259px;top:939px;width:14px;height:4px;background:#8ab8ff;border-radius:2px;"></div>
<span class="t" style="left:1281.40px;top:934.57px;font-size:12.2px;color:#ccccdc;letter-spacing:0.277px;-webkit-text-stroke:0.21px #ccccdc;">Write Operations Rate</span>
<div class="b" style="left:16px;top:972px;width:1888px;height:30px;background:#181b1f;border-radius:2px;"></div>
<div class="b" style="left:16px;top:1010px;width:1888px;height:30px;background:#181b1f;border-radius:2px;"></div>
<svg style="left:27px;top:984px" width="6" height="8" viewBox="0 0 6 8"><path d="M1.6 1 L4.6 4 L1.6 7" fill="none" stroke="#ccccdc" stroke-width="1.3" stroke-linecap="round" stroke-linejoin="round"/></svg>
<svg style="left:27px;top:1022px" width="6" height="8" viewBox="0 0 6 8"><path d="M1.6 1 L4.6 4 L1.6 7" fill="none" stroke="#ccccdc" stroke-width="1.3" stroke-linecap="round" stroke-linejoin="round"/></svg>
<span class="t" style="left:38.30px;top:978.50px;font-size:16.3px;color:#ccccdc;letter-spacing:0.580px;-webkit-text-stroke:0.35px #ccccdc;">Controllers and Ports</span>
<span class="t" style="left:220.30px;top:981.97px;font-size:12.2px;color:#8e8f9b;letter-spacing:0.107px;font-style:italic;-webkit-text-stroke:0.21px #8e8f9b;">(1 panel)</span>
<span class="t" style="left:38.30px;top:1016.50px;font-size:16.3px;color:#ccccdc;letter-spacing:0.539px;-webkit-text-stroke:0.35px #ccccdc;">Disks</span>
<span class="t" style="left:98.00px;top:1019.97px;font-size:12.2px;color:#8e8f9b;letter-spacing:0.107px;font-style:italic;-webkit-text-stroke:0.21px #8e8f9b;">(1 panel)</span>
<svg style="left:168.5px;top:1018.5px" width="15" height="15" viewBox="0 0 16 16"><path d="M6.87 2.41 L7.08 0.96 L8.92 0.96 L9.13 2.41 L11.15 3.25 L12.33 2.37 L13.63 3.67 L12.75 4.85 L13.59 6.87 L15.04 7.08 L15.04 8.92 L13.59 9.13 L12.75 11.15 L13.63 12.33 L12.33 13.63 L11.15 12.75 L9.13 13.59 L8.92 15.04 L7.08 15.04 L6.87 13.59 L4.85 12.75 L3.67 13.63 L2.37 12.33 L3.25 11.15 L2.41 9.13 L0.96 8.92 L0.96 7.08 L2.41 6.87 L3.25 4.85 L2.37 3.67 L3.67 2.37 L4.85 3.25Z" fill="none" stroke="#9d9ea9" stroke-width="1.45" stroke-linejoin="round"/><circle cx="8" cy="8" r="2.4" fill="none" stroke="#9d9ea9" stroke-width="1.45"/></svg>
<svg style="left:207.5px;top:1018.5px" width="13" height="15" viewBox="0 0 13 15"><path d="M0.8 3.4H12.2M4.4 3.2V1.6Q4.4 0.8 5.2 0.8H7.8Q8.6 0.8 8.6 1.6V3.2M2.2 3.6V12.6Q2.2 14.2 3.8 14.2H9.2Q10.8 14.2 10.8 12.6V3.6M5.2 6.4V11M7.8 6.4V11" fill="none" stroke="#9d9ea9" stroke-width="1.3" stroke-linecap="round" stroke-linejoin="round"/></svg>
<div class="b" style="left:1892px;top:977px;width:3px;height:3px;background:#34363c;"></div>
<div class="b" style="left:1897px;top:977px;width:3px;height:3px;background:#34363c;"></div>
<div class="b" style="left:1892px;top:982px;width:3px;height:3px;background:#34363c;"></div>
<div class="b" style="left:1897px;top:982px;width:3px;height:3px;background:#34363c;"></div>
<div class="b" style="left:1892px;top:988px;width:3px;height:3px;background:#34363c;"></div>
<div class="b" style="left:1897px;top:988px;width:3px;height:3px;background:#34363c;"></div>
<div class="b" style="left:1892px;top:993px;width:3px;height:3px;background:#34363c;"></div>
<div class="b" style="left:1897px;top:993px;width:3px;height:3px;background:#34363c;"></div>
<div class="b" style="left:1892px;top:1015px;width:3px;height:3px;background:#34363c;"></div>
<div class="b" style="left:1897px;top:1015px;width:3px;height:3px;background:#34363c;"></div>
<div class="b" style="left:1892px;top:1020px;width:3px;height:3px;background:#34363c;"></div>
<div class="b" style="left:1897px;top:1020px;width:3px;height:3px;background:#34363c;"></div>
<div class="b" style="left:1892px;top:1026px;width:3px;height:3px;background:#34363c;"></div>
<div class="b" style="left:1897px;top:1026px;width:3px;height:3px;background:#34363c;"></div>
<div class="b" style="left:1892px;top:1031px;width:3px;height:3px;background:#34363c;"></div>
<div class="b" style="left:1897px;top:1031px;width:3px;height:3px;background:#34363c;"></div>
</body></html>
